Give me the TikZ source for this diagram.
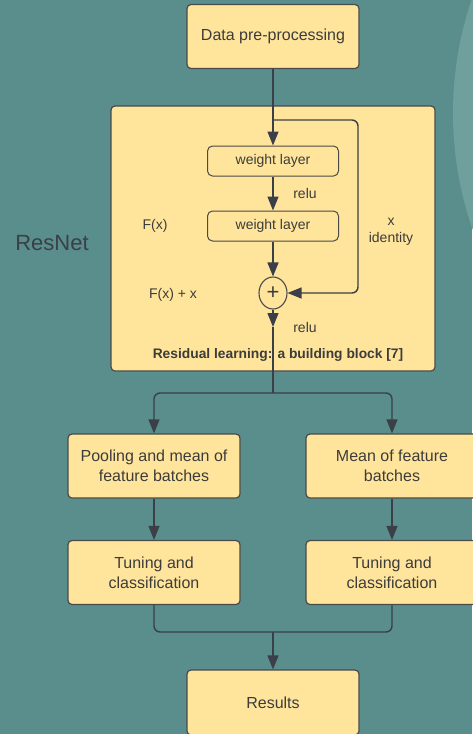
\documentclass[tikz,border=0pt]{standalone}
\usepackage{fontspec}
\setmainfont{Liberation Sans}
\usepackage{tikz}
\usetikzlibrary{positioning,arrows.meta,shapes.geometric}
\definecolor{bgteal}{HTML}{5A8E8C}
\definecolor{glow}{HTML}{6FA09E}
\definecolor{boxyellow}{HTML}{FFE49C}
\definecolor{edgegray}{HTML}{4A4A48}
\definecolor{arrgray}{HTML}{3A3F48}
\definecolor{txtgray}{HTML}{3C3C3A}
\begin{document}
\begin{tikzpicture}[x=1pt,y=-1pt,
  every node/.style={font=\fontsize{14}{17}\selectfont, text=txtgray},
  box/.style={draw=edgegray, line width=1.2pt, rounded corners=4pt, fill=boxyellow, align=center, minimum width=172pt, minimum height=64pt, inner sep=0pt, font=\fontsize{16}{20}\selectfont},
  layer/.style={draw=edgegray, line width=1pt, rounded corners=5pt, minimum width=131pt, minimum height=30pt, inner sep=0pt},
  arr/.style={-{Triangle[length=14pt,width=11pt]}, line width=1.4pt, draw=arrgray, rounded corners=6pt},
  lnk/.style={line width=1.4pt, draw=arrgray, rounded corners=6pt}]
\useasboundingbox (0,0) rectangle (472,734);
\fill[bgteal] (0,0) rectangle (472,734);
\fill[glow] (805,113) circle[radius=352];
\node[box] (prep) at (273,36.5) {Data pre-processing};
\node[box, minimum width=324pt, minimum height=265pt] (block) at (273,238.5) {};
\node[font=\fontsize{22}{26}\selectfont, text=arrgray] (resnet) at (52,243) {ResNet};
\node[layer] (wl1) at (273,161) {weight layer};
\node[layer] (wl2) at (273,226) {weight layer};
\node[ellipse, draw=edgegray, line width=1.1pt, minimum width=28pt, minimum height=32pt, inner sep=0pt, font=\fontsize{22}{22}\selectfont] (plus) at (273,293) {+};
\node (relu1) at (305,193) {relu};
\node (fx) at (155,226) {F(x)};
\node[align=center] (ident) at (391,232) {x\\identity};
\node (fxx) at (173,295) {F(x) + x};
\node (relu2) at (305,327) {relu};
\node[font=\bfseries\fontsize{13.8}{16}\selectfont] (cap) at (278,355) {Residual learning: a building block [7]};
\node[box] (pool) at (154,466) {Pooling and mean of\\feature batches};
\node[box] (mean) at (392,466) {Mean of feature\\batches};
\node[box] (tuneL) at (154,572.5) {Tuning and\\classification};
\node[box] (tuneR) at (392,572.5) {Tuning and\\classification};
\node[box, minimum height=65pt] (res) at (273,702.5) {Results};
\coordinate (split) at (273,120);
\coordinate (skip) at (358,293);
\coordinate (reluout) at (273,327);
\coordinate (fork) at (273,393);
\coordinate (join) at (273,632);
\draw[arr] (prep) -- (wl1);
\draw[arr] (split) -| (skip) -- (plus);
\draw[arr] (wl1) -- (wl2);
\draw[arr] (wl2) -- (plus);
\draw[arr] (plus) -- (reluout);
\draw[lnk] (reluout) -- (fork);
\draw[arr] (fork) -| (pool);
\draw[arr] (fork) -| (mean);
\draw[arr] (pool) -- (tuneL);
\draw[arr] (mean) -- (tuneR);
\draw[lnk] (tuneL) |- (join);
\draw[lnk] (tuneR) |- (join);
\draw[arr] (join) -- (res);
\end{tikzpicture}
\end{document}
